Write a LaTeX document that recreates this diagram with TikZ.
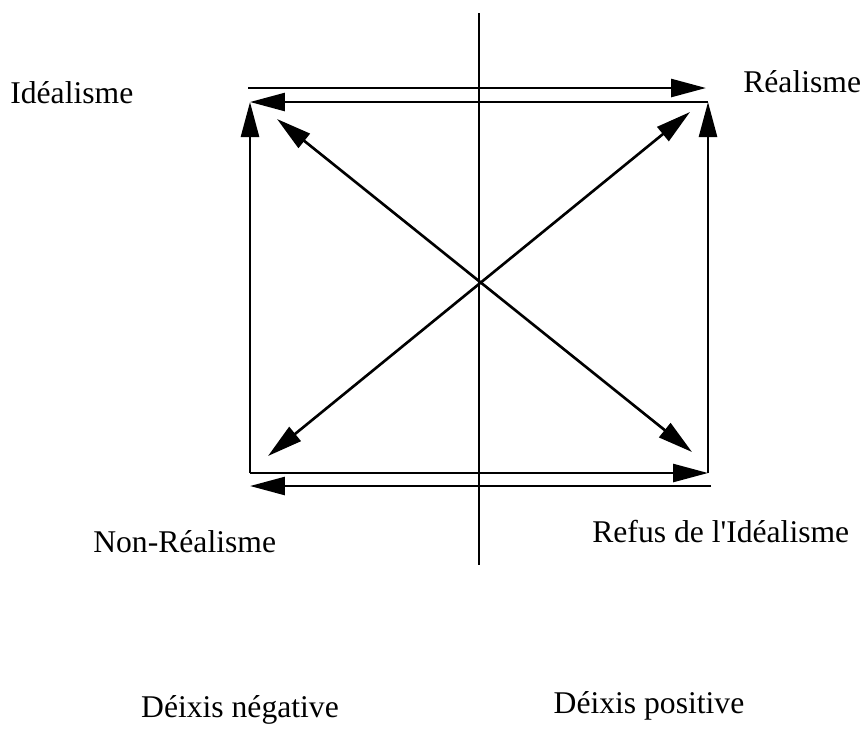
\documentclass[tikz,border=0pt]{standalone}
\usepackage{fontspec}
\setmainfont{Liberation Serif}
\usetikzlibrary{arrows.meta,positioning}

\begin{document}
\begin{tikzpicture}[x=0.02cm, y=-0.02cm,
    pole/.style={font=\fontsize{18}{21}\selectfont, inner sep=0pt},
    arrow/.style={-{Triangle[length=7mm,width=3.6mm]}, line width=1.5pt},
    biarrow/.style={{Triangle[length=7mm,width=3.6mm]}-{Triangle[length=7mm,width=3.6mm]}, line width=1.5pt},
    axis/.style={line width=1.4pt}
]
\useasboundingbox (0,0) rectangle (862,735);

% square corners
\coordinate (tl) at (250,102);
\coordinate (tr) at (708,102);
\coordinate (bl) at (250,473);
\coordinate (br) at (708,473);
% outer rails
\coordinate (topa) at (248,88);
\coordinate (topb) at (706,88);
\coordinate (bota) at (711,486);
\coordinate (botb) at (250,486);
% diagonal tips
\coordinate (dtl) at (277,119);
\coordinate (dtr) at (690,112);
\coordinate (dbl) at (268,456);
\coordinate (dbr) at (692,452);
% axis ends
\coordinate (axtop) at (479,13);
\coordinate (axbot) at (479,565);

\node[pole, anchor=base west] (ideal) at (10,103) {Idéalisme};
\node[pole, anchor=base west] (real) at (743,92) {Réalisme};
\node[pole, anchor=base west] (nonreal) at (93,552) {Non-Réalisme};
\node[pole, anchor=base west] (refus) at (592,542) {Refus de l\textquotesingle Idéalisme};
\node[pole, anchor=base] (neg) at (240,717) {Déixis négative};
\node[pole, anchor=base] (pos) at (649,713) {Déixis positive};

\draw[axis] (axtop) -- (axbot);

\draw[arrow] (topa) -- (topb);
\draw[arrow] (tr) -- (tl);
\draw[arrow] (bl) -- (tl);
\draw[arrow] (br) -- (tr);
\draw[arrow] (bl) -- (br);
\draw[arrow] (bota) -- (botb);

\draw[biarrow] (dtl) -- (dbr);
\draw[biarrow] (dtr) -- (dbl);
\end{tikzpicture}
\end{document}
